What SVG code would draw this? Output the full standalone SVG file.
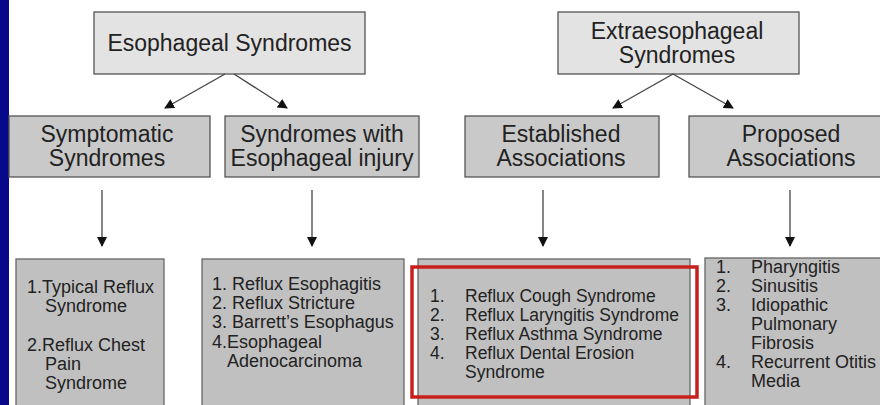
<svg xmlns="http://www.w3.org/2000/svg" width="880" height="405" viewBox="0 0 880 405">
<defs>
<marker id="ah" viewBox="0 0 10 10" refX="9" refY="5" markerWidth="10" markerHeight="10" markerUnits="userSpaceOnUse" orient="auto">
<path d="M0,0 L10,5 L0,10 z" fill="#111"/>
</marker>
</defs>
<style>
text{font-family:"Liberation Sans",Arial,sans-serif;fill:#222}
.t{font-size:23px;text-anchor:middle}
.s{font-size:18px}
.s2{font-size:17.5px}
.b1{fill:#e3e3e3;stroke:#555;stroke-width:1.3}
.b2{fill:#c9c9c9;stroke:#555;stroke-width:1.3}
.b3{fill:#c0c0c0;stroke:#666;stroke-width:1.3}
.c{stroke:#444;stroke-width:1.3;fill:none;marker-end:url(#ah)}
</style>
<rect x="0" y="0" width="880" height="405" fill="#ffffff"/>
<rect x="0" y="0" width="9" height="405" fill="#08088a"/>

<g id="esophageal">
<rect class="b1" x="94" y="12" width="271" height="62"/>
<text class="t" x="229.5" y="51">Esophageal Syndromes</text>
</g>
<g id="extraesophageal">
<rect class="b1" x="558" y="12" width="241" height="62"/>
<text class="t" x="677" y="39">Extraesophageal</text>
<text class="t" x="677" y="63">Syndromes</text>
</g>

<g id="symptomatic">
<rect class="b2" x="9" y="116" width="201" height="61"/>
<text class="t" x="107" y="142">Symptomatic</text>
<text class="t" x="107" y="166">Syndromes</text>
</g>
<g id="injury">
<rect class="b2" x="225" y="116" width="194" height="61"/>
<text class="t" x="322" y="142">Syndromes with</text>
<text class="t" x="322" y="166">Esophageal injury</text>
</g>
<g id="established">
<rect class="b2" x="465" y="116" width="194" height="61"/>
<text class="t" x="561" y="142">Established</text>
<text class="t" x="561" y="166">Associations</text>
</g>
<g id="proposed">
<rect class="b2" x="689" y="116" width="210" height="61"/>
<text class="t" x="791" y="142">Proposed</text>
<text class="t" x="791" y="166">Associations</text>
</g>

<g id="list1">
<rect class="b3" x="16" y="259" width="148" height="160"/>
<text class="s" x="27" y="293">1.Typical Reflux</text>
<text class="s" x="45" y="312">Syndrome</text>
<text class="s" x="27" y="351">2.Reflux Chest</text>
<text class="s" x="45" y="370">Pain</text>
<text class="s" x="45" y="389">Syndrome</text>
</g>
<g id="list2">
<rect class="b3" x="202" y="259" width="202" height="160"/>
<text class="s" x="212" y="290">1. Reflux Esophagitis</text>
<text class="s" x="212" y="309">2. Reflux Stricture</text>
<text class="s" x="212" y="328">3. Barrett’s Esophagus</text>
<text class="s" x="212" y="348">4.Esophageal</text>
<text class="s" x="227" y="367">Adenocarcinoma</text>
</g>
<g id="list3">
<rect class="b3" x="418" y="259" width="272" height="160"/>
<rect x="412" y="267" width="285" height="130" fill="none" stroke="#c8201e" stroke-width="3.5"/>
<text class="s2" x="430" y="302">1.</text>
<text class="s2" x="465" y="302">Reflux Cough Syndrome</text>
<text class="s2" x="430" y="321">2.</text>
<text class="s2" x="465" y="321">Reflux Laryngitis Syndrome</text>
<text class="s2" x="430" y="340">3.</text>
<text class="s2" x="465" y="340">Reflux Asthma Syndrome</text>
<text class="s2" x="430" y="359">4.</text>
<text class="s2" x="465" y="359">Reflux Dental Erosion</text>
<text class="s2" x="465" y="378">Syndrome</text>
</g>
<g id="list4">
<rect class="b3" x="705" y="258" width="190" height="160"/>
<text class="s" x="716" y="273">1.</text>
<text class="s" x="751" y="273">Pharyngitis</text>
<text class="s" x="716" y="292">2.</text>
<text class="s" x="751" y="292">Sinusitis</text>
<text class="s" x="716" y="311">3.</text>
<text class="s" x="751" y="311">Idiopathic</text>
<text class="s" x="751" y="330">Pulmonary</text>
<text class="s" x="751" y="349">Fibrosis</text>
<text class="s" x="716" y="368">4.</text>
<text class="s" x="751" y="368">Recurrent Otitis</text>
<text class="s" x="751" y="387">Media</text>
</g>

<g id="connectors">
<line class="c" x1="225" y1="74" x2="165" y2="108"/>
<line class="c" x1="234" y1="74" x2="287" y2="108"/>
<line class="c" x1="673" y1="74" x2="613" y2="108"/>
<line class="c" x1="673" y1="74" x2="733" y2="108"/>
<line class="c" x1="102" y1="190" x2="102" y2="246"/>
<line class="c" x1="312" y1="190" x2="312" y2="246"/>
<line class="c" x1="543" y1="190" x2="543" y2="246"/>
<line class="c" x1="790" y1="190" x2="790" y2="246"/>
</g>
</svg>
